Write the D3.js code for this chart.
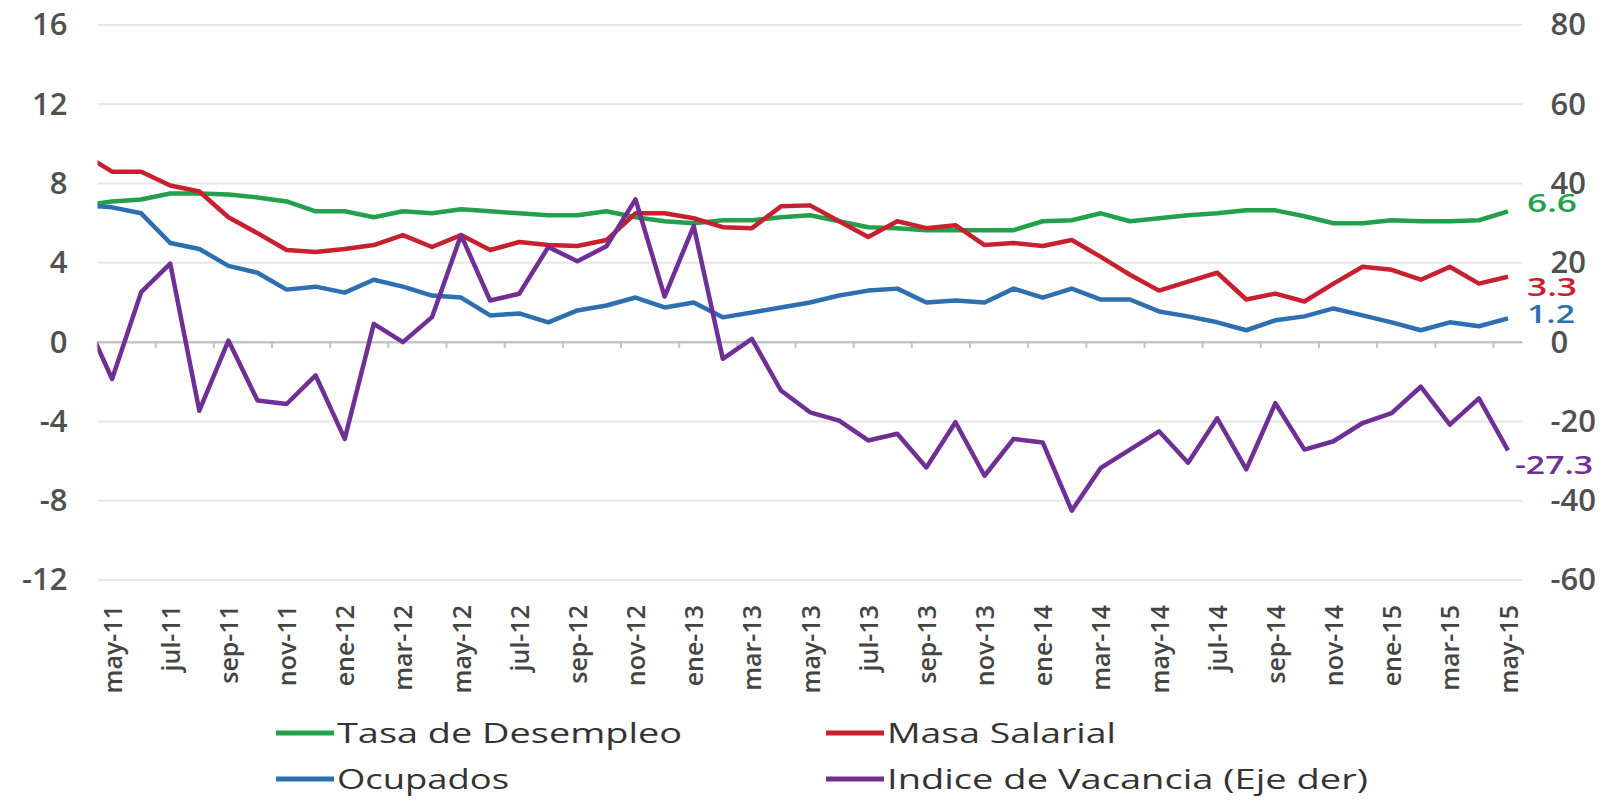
<!DOCTYPE html>
<html>
<head>
<meta charset="utf-8">
<script src="https://cdn.jsdelivr.net/npm/d3@7"></script>
<style>
  body { margin: 0; background: #fff; }
</style>
</head>
<body>
<svg id="chart" width="1620" height="800"></svg>
<script>
// meses (abr-11 queda fuera del area de trazado, solo se ve el tramo cortado)
const months = ['abr-11','may-11','jun-11','jul-11','ago-11','sep-11','oct-11','nov-11','dic-11',
  'ene-12','feb-12','mar-12','abr-12','may-12','jun-12','jul-12','ago-12','sep-12','oct-12','nov-12','dic-12',
  'ene-13','feb-13','mar-13','abr-13','may-13','jun-13','jul-13','ago-13','sep-13','oct-13','nov-13','dic-13',
  'ene-14','feb-14','mar-14','abr-14','may-14','jun-14','jul-14','ago-14','sep-14','oct-14','nov-14','dic-14',
  'ene-15','feb-15','mar-15','abr-15','may-15'];

const labelMonths = ['may-11','jul-11','sep-11','nov-11','ene-12','mar-12','may-12','jul-12','sep-12','nov-12',
  'ene-13','mar-13','may-13','jul-13','sep-13','nov-13','ene-14','mar-14','may-14','jul-14','sep-14','nov-14',
  'ene-15','mar-15','may-15'];

const desempleo = [6.9, 7.1,7.2,7.5,7.5,7.45,7.3,7.1,6.6,
  6.6,6.3,6.6,6.5,6.7,6.6,6.5,6.4,6.4,6.6,6.3,6.1,
  6.0,6.15,6.15,6.3,6.4,6.1,5.8,5.75,5.65,5.65,5.65,5.65,
  6.1,6.15,6.5,6.1,6.25,6.4,6.5,6.65,6.65,6.35,6.0,6.0,
  6.15,6.1,6.1,6.15,6.6];

const masaSalarial = [9.5, 8.6,8.6,7.9,7.6,6.3,5.5,4.65,4.55,
  4.7,4.9,5.4,4.8,5.4,4.65,5.05,4.9,4.85,5.15,6.5,6.5,
  6.25,5.8,5.75,6.85,6.9,6.1,5.3,6.1,5.75,5.9,4.9,5.0,
  4.85,5.15,4.3,3.4,2.6,3.05,3.5,2.15,2.45,2.05,2.95,3.8,
  3.65,3.15,3.8,2.95,3.3];

const ocupados = [6.9, 6.8,6.5,5.0,4.7,3.85,3.5,2.65,2.8,
  2.5,3.15,2.8,2.35,2.25,1.35,1.45,1.0,1.6,1.85,2.25,1.75,
  2.0,1.25,1.5,1.75,2.0,2.35,2.6,2.7,2.0,2.1,2.0,2.7,
  2.25,2.7,2.15,2.15,1.55,1.3,1.0,0.6,1.1,1.3,1.7,1.35,
  1.0,0.6,1.0,0.8,1.2];

const vacancia = [7, -9.3,12.6,19.8,-17.3,0.4,-14.7,-15.6,-8.4,
  -24.4,4.6,0,6.3,27,10.5,12.2,24,20.4,24.2,36,11.5,
  29.3,-4.2,0.8,-12.2,-17.7,-19.8,-24.8,-23.1,-31.6,-20.2,-33.7,-24.4,
  -25.3,-42.5,-31.7,-27.1,-22.5,-30.4,-19.2,-32.1,-15.4,-27.1,-25,-20.4,
  -17.9,-11.25,-20.8,-14.2,-27.3];

const leftTicks = [16, 12, 8, 4, 0, -4, -8, -12];
const rightTicks = [80, 60, 40, 20, 0, -20, -40, -60];

const series = [
  {name: 'Tasa de Desempleo', values: desempleo, color: '#23a04c', axis: 'left', label: '6.6'},
  {name: 'Masa Salarial', values: masaSalarial, color: '#c8202f', axis: 'left', label: '3.3'},
  {name: 'Ocupados', values: ocupados, color: '#2e6fb0', axis: 'left', label: '1.2'},
  {name: 'Indice de Vacancia (Eje der)', values: vacancia, color: '#702f94', axis: 'right', label: '-27.3'}
];

const svg = d3.select('#chart');

const x = d3.scalePoint().domain(months).range([83, 1508]);
const step = x.step();
const plotLeft = x('may-11') - step / 2;
const plotRight = x('may-15') + step / 2;

const yL = d3.scaleLinear().domain([-12, 16]).range([580, 25]);
const yR = d3.scaleLinear().domain([-60, 80]).range([580, 25]);

svg.append('defs').append('clipPath').attr('id', 'plot-clip')
  .append('rect')
  .attr('x', plotLeft).attr('y', 0)
  .attr('width', plotRight - plotLeft).attr('height', 800);

// lineas de division
svg.append('g').selectAll('line')
  .data(leftTicks.filter(d => d !== 0))
  .enter().append('line')
  .attr('x1', plotLeft).attr('x2', plotRight)
  .attr('y1', d => yL(d)).attr('y2', d => yL(d))
  .attr('stroke', '#e6e6e6').attr('stroke-width', 2);

// eje izquierdo
const gLeft = svg.append('g')
  .attr('transform', 'translate(' + plotLeft + ',0)')
  .call(d3.axisLeft(yL).tickValues(leftTicks).tickSize(0).tickPadding(30).tickFormat(d => String(d)));
gLeft.select('.domain').remove();

// eje derecho
const gRight = svg.append('g')
  .attr('transform', 'translate(' + plotRight + ',0)')
  .call(d3.axisRight(yR).tickValues(rightTicks).tickSize(0).tickPadding(28).tickFormat(d => String(d)));
gRight.select('.domain').remove();

svg.selectAll('g.tick text')
  .attr('font-family', '"Open Sans", sans-serif')
  .attr('font-weight', 600)
  .attr('font-size', 31)
  .attr('fill', '#505050');

// linea de cero y marcas
svg.append('line')
  .attr('x1', plotLeft).attr('x2', plotRight)
  .attr('y1', yL(0)).attr('y2', yL(0))
  .attr('stroke', '#c4c4c4').attr('stroke-width', 2.5);

svg.append('g').selectAll('line')
  .data(labelMonths)
  .enter().append('line')
  .attr('x1', d => x(d) - step / 2).attr('x2', d => x(d) - step / 2)
  .attr('y1', yL(0)).attr('y2', yL(0) + 6)
  .attr('stroke', '#c4c4c4').attr('stroke-width', 2);

// etiquetas de meses
const gBottom = svg.append('g')
  .attr('transform', 'translate(0,605)')
  .call(d3.axisBottom(x).tickValues(labelMonths).tickSize(0));
gBottom.select('.domain').remove();
gBottom.selectAll('text')
  .attr('transform', 'rotate(-90)')
  .attr('text-anchor', 'end')
  .attr('x', 0).attr('y', 0).attr('dy', '0.36em')
  .attr('font-family', '"Open Sans", sans-serif')
  .attr('font-weight', 600)
  .attr('font-size', 25)
  .attr('fill', '#444');

// series
const plot = svg.append('g').attr('clip-path', 'url(#plot-clip)');
series.forEach(s => {
  const yScale = s.axis === 'left' ? yL : yR;
  const line = d3.line()
    .x((d, i) => x(months[i]))
    .y(d => yScale(d));
  plot.append('path')
    .datum(s.values)
    .attr('fill', 'none')
    .attr('stroke', s.color)
    .attr('stroke-width', 4.5)
    .attr('stroke-linejoin', 'round')
    .attr('d', line);
});

// etiquetas de ultimo valor
const endLabels = [
  {s: series[0], x: 1527, w: 50, dy: -8},
  {s: series[1], x: 1527, w: 50, dy: 10},
  {s: series[2], x: 1527, w: 48, dy: -4},
  {s: series[3], x: 1515, w: 78, dy: 15}
];
endLabels.forEach(e => {
  const yScale = e.s.axis === 'left' ? yL : yR;
  const v = e.s.values[e.s.values.length - 1];
  svg.append('text')
    .attr('x', e.x).attr('y', yScale(v) + e.dy).attr('dy', '0.35em')
    .attr('font-family', '"Open Sans", sans-serif')
    .attr('font-weight', 600)
    .attr('font-size', 26)
    .attr('textLength', e.w).attr('lengthAdjust', 'spacingAndGlyphs')
    .attr('fill', e.s.color)
    .text(e.s.label);
});

// leyenda
const legendItems = [
  {s: series[0], x: 276, y: 733, w: 345},
  {s: series[1], x: 826, y: 733, w: 229},
  {s: series[2], x: 276, y: 779, w: 172},
  {s: series[3], x: 826, y: 779, w: 481}
];
const legend = svg.append('g');
legendItems.forEach(it => {
  legend.append('line')
    .attr('x1', it.x).attr('x2', it.x + 58)
    .attr('y1', it.y).attr('y2', it.y)
    .attr('stroke', it.s.color).attr('stroke-width', 5);
  legend.append('text')
    .attr('x', it.x + 61).attr('y', it.y).attr('dy', '0.35em')
    .attr('font-family', '"Open Sans", sans-serif')
    .attr('font-weight', 500)
    .attr('font-size', 28)
    .attr('textLength', it.w).attr('lengthAdjust', 'spacingAndGlyphs')
    .attr('fill', '#333')
    .text(it.s.name);
});
</script>
</body>
</html>
